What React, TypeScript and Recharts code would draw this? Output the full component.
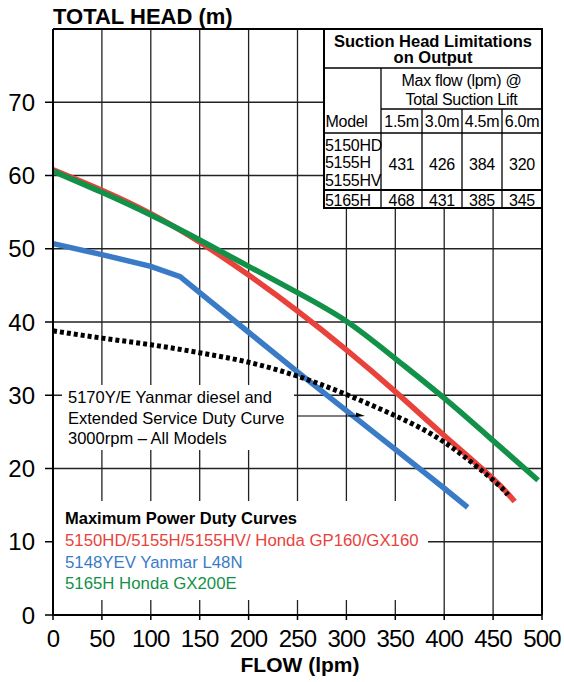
import React from 'react';
import { LineChart, Line, XAxis, YAxis, CartesianGrid, ReferenceLine } from 'recharts';

// flow (lpm) ticks and head (m) ticks
const flowTicks = [0, 50, 100, 150, 200, 250, 300, 350, 400, 450, 500];
const headTicks = [0, 10, 20, 30, 40, 50, 60, 70];

// 5150HD/5155H/5155HV Honda GP160/GX160
const gx160Flow = [0, 50, 100, 150, 200, 250, 300, 350, 400, 450, 472];
const gx160Head = [60.8, 58.0, 54.8, 50.9, 46.4, 41.5, 36.2, 30.5, 24.5, 18.6, 15.5];

// 5148YEV Yanmar L48N
const l48nFlow = [0, 50, 100, 130, 150, 200, 250, 300, 350, 400, 424];
const l48nHead = [50.7, 49.2, 47.6, 46.2, 44.0, 38.6, 33.2, 27.9, 22.6, 17.3, 14.7];

// 5165H Honda GX200E
const gx200Flow = [0, 50, 100, 150, 200, 250, 300, 350, 400, 450, 496];
const gx200Head = [60.6, 57.7, 54.6, 51.2, 47.6, 44.0, 40.1, 35.0, 29.6, 23.8, 18.4];

// 5170Y/E extended duty curve (dotted)
const dutyFlow = [0, 50, 100, 150, 200, 250, 300, 350, 400, 450, 465];
const dutyHead = [38.8, 37.8, 36.9, 35.8, 34.5, 32.6, 30.1, 27.2, 23.6, 18.4, 16.4];

// suction table
const liftCols = ['1.5m', '3.0m', '4.5m', '6.0m'];
const tableModels = [['5150HD', '5155H', '5155HV'], ['5165H']];
const maxFlowRows = [
  [431, 426, 384, 320],
  [468, 431, 385, 345],
];

const legendTitle = 'Maximum Power Duty Curves';
const legendItems = [
  { label: '5150HD/5155H/5155HV/ Honda GP160/GX160', color: '#e8423b' },
  { label: '5148YEV Yanmar L48N', color: '#3a7bc8' },
  { label: '5165H Honda GX200E', color: '#129148' },
];
const noteLines = ['5170Y/E Yanmar diesel and', 'Extended Service Duty Curve', '3000rpm – All Models'];

const zip = (xs: number[], ys: number[]) => xs.map((flow, i) => ({ flow, head: ys[i] }));

const FONT = '"Liberation Sans", Arial, Helvetica, sans-serif';

function Overlay() {
  const colX = [324, 381, 422, 462, 502, 542];
  const rowY = [29, 68, 109, 133, 190, 208];
  const tStyle = { fontFamily: FONT, fontSize: 16, letterSpacing: -0.3 } as const;
  return (
    <svg width={564} height={682} style={{ position: 'absolute', left: 0, top: 0, pointerEvents: 'none' }}>
      <text x={53} y={24} fontFamily={FONT} fontSize={22} fontWeight="bold">TOTAL HEAD (m)</text>
      <text x={300} y={672} fontFamily={FONT} fontSize={21} fontWeight="bold" textAnchor="middle">FLOW (lpm)</text>

      {/* legend box */}
      <rect x={54} y={501} width={374} height={99} fill="#fff" />
      <text x={65} y={524} fontFamily={FONT} fontSize={16.5} fontWeight="bold">{legendTitle}</text>
      {legendItems.map((it, i) => (
        <text key={it.label} x={65} y={546 + i * 21.7} fontFamily={FONT} fontSize={16.8} fill={it.color}>{it.label}</text>
      ))}

      {/* note box */}
      <rect x={62} y={385} width={232} height={65} fill="#fff" />
      {noteLines.map((t, i) => (
        <text key={t} x={68} y={403 + i * 20.6} fontFamily={FONT} fontSize={16.5}>{t}</text>
      ))}
      <line x1={297} y1={416} x2={358} y2={416} stroke="#000" strokeWidth={1.2} />
      <polygon points="356,412.5 365,416 356,417" fill="#000" />

      {/* suction table */}
      <rect x={324} y={29} width={218} height={179} fill="#fff" stroke="#000" strokeWidth={2} />
      <line x1={324} y1={rowY[1]} x2={542} y2={rowY[1]} stroke="#000" strokeWidth={1.3} />
      <line x1={colX[1]} y1={rowY[2]} x2={542} y2={rowY[2]} stroke="#000" strokeWidth={1.3} />
      <line x1={324} y1={rowY[3]} x2={542} y2={rowY[3]} stroke="#000" strokeWidth={1.3} />
      <line x1={324} y1={rowY[4]} x2={542} y2={rowY[4]} stroke="#000" strokeWidth={2} />
      <line x1={colX[1]} y1={rowY[1]} x2={colX[1]} y2={208} stroke="#000" strokeWidth={1.3} />
      {[2, 3, 4].map((c) => (
        <line key={c} x1={colX[c]} y1={rowY[2]} x2={colX[c]} y2={208} stroke="#000" strokeWidth={1.3} />
      ))}
      <text x={433} y={46.5} fontFamily={FONT} fontSize={16.5} fontWeight="bold" textAnchor="middle">Suction Head Limitations</text>
      <text x={433} y={63} fontFamily={FONT} fontSize={16.5} fontWeight="bold" textAnchor="middle">on Output</text>
      <text x={461.5} y={85.6} {...tStyle} textAnchor="middle">Max flow (lpm) @</text>
      <text x={461.5} y={105} {...tStyle} textAnchor="middle">Total Suction Lift</text>
      <text x={325.5} y={126.6} {...tStyle}>Model</text>
      {liftCols.map((c, i) => (
        <text key={c} x={(colX[i + 1] + colX[i + 2]) / 2} y={126.6} {...tStyle} textAnchor="middle">{c}</text>
      ))}
      {tableModels[0].map((m, i) => (
        <text key={m} x={325} y={150.5 + i * 17.8} {...tStyle}>{m}</text>
      ))}
      <text x={325} y={205.5} {...tStyle}>{tableModels[1][0]}</text>
      {maxFlowRows.map((row, r) =>
        row.map((v, i) => (
          <text key={`${r}-${i}`} x={(colX[i + 1] + colX[i + 2]) / 2} y={r === 0 ? 169.5 : 205.5} {...tStyle} textAnchor="middle">{v}</text>
        ))
      )}
    </svg>
  );
}

export default function App() {
  return (
    <div style={{ position: 'absolute', left: 0, top: 0, width: 564, height: 682, background: '#fff' }}>
      <LineChart width={564} height={682} margin={{ top: 29, right: 22, bottom: 27, left: 0 }}>
        <CartesianGrid stroke="#222" strokeWidth={1.3} horizontal vertical />
        <XAxis
          type="number"
          dataKey="flow"
          domain={[0, 500]}
          ticks={flowTicks}
          interval={0}
          height={40}
          axisLine={{ stroke: '#000', strokeWidth: 2 }}
          tickLine={{ stroke: '#000', strokeWidth: 1.5 }}
          tickSize={5}
          tickMargin={10}
          tick={{ fontSize: 24, fill: '#000', fontFamily: FONT, letterSpacing: -0.8 }}
        />
        <YAxis
          type="number"
          domain={[0, 80]}
          ticks={headTicks}
          interval={0}
          width={53}
          axisLine={{ stroke: '#000', strokeWidth: 2 }}
          tickLine={{ stroke: '#000', strokeWidth: 1.5 }}
          tickSize={8}
          tickMargin={10}
          tick={{ fontSize: 24, fill: '#000', fontFamily: FONT }}
        />
        <ReferenceLine y={80} stroke="#000" strokeWidth={2} />
        <ReferenceLine x={500} stroke="#000" strokeWidth={2} />
        <Line data={zip(l48nFlow, l48nHead)} dataKey="head" type="linear" stroke="#3a7bc8" strokeWidth={5.5} dot={false} activeDot={false} isAnimationActive={false} />
        <Line data={zip(gx160Flow, gx160Head)} dataKey="head" type="natural" stroke="#e8423b" strokeWidth={5.5} dot={false} activeDot={false} isAnimationActive={false} />
        <Line data={zip(gx200Flow, gx200Head)} dataKey="head" type="natural" stroke="#129148" strokeWidth={5.5} dot={false} activeDot={false} isAnimationActive={false} />
        <Line data={zip(dutyFlow, dutyHead)} dataKey="head" type="natural" stroke="#000" strokeWidth={5} strokeDasharray="4 3" dot={false} activeDot={false} isAnimationActive={false} />
      </LineChart>
      <Overlay />
    </div>
  );
}
